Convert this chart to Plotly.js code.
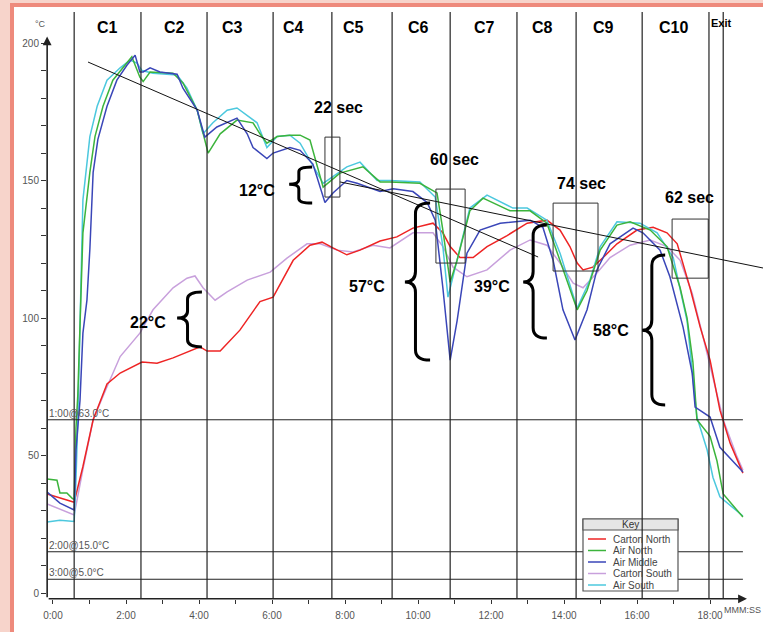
<!DOCTYPE html>
<html><head><meta charset="utf-8">
<script src="https://cdn.plot.ly/plotly-3.0.1.min.js"></script>
<style>
html,body{margin:0;padding:0;}
#bg{position:absolute;left:0;top:0;width:763px;height:632px;background:#f7d4cb;overflow:hidden;}
#sheet{position:absolute;left:10px;top:3px;width:749px;height:625px;background:#fff;border-left:4px solid #ee8a7c;border-top:4px solid #ee8a7c;}
#chart{position:absolute;left:0;top:0;width:763px;height:632px;}
</style></head>
<body><div id="bg"><div id="sheet"></div></div><div id="chart"></div>
<script>
// ---- data (time in minutes, temperature in °C) ----
const seriesNames = ['Carton North','Air North','Air Middle','Carton South','Air South'];
const seriesColors = ['#ee2424','#3cb43c','#3a46b8','#c8a0dc','#4cc8de'];

const cartonNorthT = [-0.16,0.58,0.82,1.01,1.10,1.48,1.84,2.44,2.85,3.29,3.67,4.03,4.22,4.58,5.12,5.67,6.03,6.58,7.04,7.37,7.67,8.05,8.41,8.96,9.42,9.86,10.41,10.68,10.88,11.15,11.51,11.89,12.44,12.99,13.53,13.89,14.16,14.36,14.52,14.79,15.07,15.45,16.00,16.44,16.82,17.10,17.45,17.73,18.00,18.27,18.55,18.90];
const cartonNorthC = [36,33,46,58,63,76,80,84,83.6,85.5,87.6,89.5,88,88,95.6,106,107.6,121,126.5,127.6,125.5,123,124.7,128,129.5,132.7,134.5,131,126,122,122,126,130,134.5,135.6,132,126,120,117.5,118.5,122,127,132,133,131,127,111,96.7,84.7,66.5,54.5,43.6];

const airNorthT = [-0.16,0.11,0.19,0.38,0.52,0.58,0.63,0.68,0.82,1.01,1.15,1.37,1.64,2.03,2.16,2.38,2.47,2.66,3.29,3.56,3.95,4.25,4.58,5.04,5.48,5.67,5.86,6.14,6.49,6.77,7.04,7.40,7.86,8.49,8.96,9.23,10.05,10.52,10.68,10.88,11.07,11.42,11.78,12.52,13.07,13.53,13.89,14.36,14.63,14.99,15.45,15.81,16.36,16.82,17.18,17.37,17.53,17.64,18.00,18.19,18.36,18.90];
const airNorthC = [41.5,41,36.4,36.4,34.5,34,60,72,131,153,166,177,186.5,192.7,195,187.6,186,189.5,189,185.5,175.6,160,167,172,171,167,163.6,166,166.5,166.5,164.7,147.6,152.7,155,149.5,149.5,149,145.5,132,113,121,139,143.6,139,139,134.5,121,103,110,124.7,133.8,135,132,126,111,100,84,63,57,48,36,27.6];

const airMiddleT = [-0.16,0.19,0.58,0.63,0.74,0.82,0.93,1.01,1.10,1.23,1.48,1.75,2.03,2.25,2.38,2.47,2.66,2.93,3.40,3.56,3.95,4.16,4.49,5.04,5.32,5.48,5.86,6.03,6.49,6.77,7.12,7.45,7.67,8.05,8.33,8.96,9.32,9.86,10.25,10.47,10.68,10.88,11.07,11.34,11.70,12.25,13.07,13.42,13.70,13.97,14.30,14.63,14.90,15.26,15.89,16.16,16.63,16.90,17.26,17.51,17.59,18.00,18.27,18.55,18.90];
const airMiddleC = [36.7,32.7,30.2,52,70,94.5,106.5,125,153,165,177,186.5,192,195.6,189.5,189.5,191,189.5,188.7,183.6,175.6,165.8,169.5,172.7,167,162,158,160,162,161,156,142,145.5,150,149,146,147,146,142,135.6,111,84.7,99,123.6,132,134.5,135.6,133,121,103,92,103,117.5,127,132.7,131,124.7,115,96.7,80,67.6,64,53,49,44];

const cartonSouthT = [-0.16,0.58,0.82,1.10,1.48,1.84,2.38,2.74,3.29,3.67,3.89,4.11,4.44,4.77,5.32,5.95,6.41,6.96,7.32,7.78,8.22,8.77,9.23,9.86,10.41,10.68,10.96,11.34,11.89,12.52,13.07,13.53,13.89,14.25,14.52,14.90,15.26,15.81,16.36,16.82,17.18,17.51,17.81,18.08,18.36,18.74,18.90];
const cartonSouthC = [32.4,28.4,45,63,75,86,94.5,103,111,114.5,115.3,111,106.5,109.5,113.8,116.7,121.8,127,127,124.7,124,126.5,125.5,131,131,126,118.5,115,117.5,124.7,128.4,126.5,120,112.7,111,116.4,122,126.5,128.4,126,121,109,93,78.5,63,49.5,44.7];

const airSouthT = [-0.16,0.19,0.58,0.63,0.68,0.82,1.01,1.21,1.48,1.84,2.11,2.30,2.44,2.74,3.40,3.67,3.95,4.11,4.38,4.77,5.04,5.59,5.86,6.14,6.49,6.77,7.40,8.05,8.41,8.88,9.23,10.05,10.47,10.68,10.82,11.07,11.42,11.89,12.60,12.99,13.53,13.89,14.36,14.71,14.99,15.45,16.08,16.55,16.99,17.37,17.53,17.64,17.92,18.08,18.27,18.63,18.90];
const airSouthC = [25.8,26.5,26,41,63,143,166,177,186.5,191,193.8,192.7,190,189,188.4,183.6,175.6,167,171,175.6,176.4,171,162,166,166.5,163.6,149,155,156.7,150,150,149.5,144,126,107.6,121,140,144.7,140,140,135.6,123.6,103.6,113.8,126,135,134.5,131,122,99,78,64,52,42,35,31,28];

// ticks
const xTickVals = [0,1,2,3,4,5,6,7,8,9,10,11,12,13,14,15,16,17,18];
const xTickText = ['0:00','','2:00','','4:00','','6:00','','8:00','','10:00','','12:00','','14:00','','16:00','','18:00'];
const yTickVals = [0,10,20,30,40,50,60,70,80,90,100,110,120,130,140,150,160,170,180,190,200];
const yTickText = ['0','','','','','50','','','','','100','','','','','150','','','','','200'];

// zones
const zoneBounds = [0.58,2.41,4.22,6.03,7.64,9.29,10.88,12.71,14.33,16.14,17.97,18.36];
const zoneNames = ['C1','C2','C3','C4','C5','C6','C7','C8','C9','C10'];
const zoneLabelX = [1.48,3.32,4.93,6.58,8.22,10.0,11.81,13.42,15.07,16.99];
const exitLabelX = 18.30;

// alarm levels
const alarmLevels = [63,15,5];
const alarmLabels = ['1:00@63.0°C','2:00@15.0°C','3:00@5.0°C'];
const alarmEnd = 18.90;

// trend lines
const trendX0 = [0.96,7.86], trendY0 = [193.1,149.5];
const trendX1 = [13.29,19.45], trendY1 = [122.2,118.2];

// duration boxes
const boxLabels = ['22 sec','60 sec','74 sec','62 sec'];
const boxX0 = [7.45,10.49,13.70,16.96], boxX1 = [7.86,11.29,14.93,17.95];
const boxY0 = [144,120,117.1,114.5], boxY1 = [165.8,146.9,141.8,136];
const boxLabelX = [7.81,11.01,14.47,17.45], boxLabelY = [176.4,157.5,149.1,144];

// temperature spans (braces)
const spanLabels = ['12°C','22°C','57°C','39°C','58°C'];
const spanLabelX = [5.60,2.60,8.60,12.03,15.29], spanLabelY = [146.5,98.2,111.3,111.3,95.6];
const braceTipX = [6.47,3.40,9.64,12.88,16.14];
const braceEndX = [7.10,4.08,10.33,13.53,16.77];
const braceTop = [154.9,109.5,141.8,133.8,122.9];
const braceMid = [148.7,100,113.1,113.1,95.6];
const braceBottom = [141.8,89.5,84.7,92.7,68.4];

// ---- layout geometry ----
const W = 763, H = 632, ML = 47, MT = 12, MR = 0, MB = 33;
const PW = W - ML - MR, PH = H - MT - MB;
const XR = [-0.164, 19.45], YR = [-2.18, 211.3];
const fx = px => (px - ML) / PW;
const fy = py => (MT + PH - py) / PH;
const FONT = 'Liberation Sans, Arial, sans-serif';

const xs = [cartonNorthT, airNorthT, airMiddleT, cartonSouthT, airSouthT];
const ys = [cartonNorthC, airNorthC, airMiddleC, cartonSouthC, airSouthC];
const drawOrder = [3,0,4,1,2];
const traces = drawOrder.map(i => ({
  type:'scatter', mode:'lines', x: xs[i], y: ys[i], name: seriesNames[i],
  line:{color: seriesColors[i], width:1.5}, hoverinfo:'skip', showlegend:false
}));

const shapes = [];
const annotations = [];

// alarm lines + labels
alarmLevels.forEach((v,i) => {
  shapes.push({type:'line', xref:'x', yref:'y', x0: XR[0], x1: alarmEnd, y0: v, y1: v, line:{color:'#222', width:1}, layer:'above'});
  annotations.push({xref:'x', yref:'y', x: -0.15, y: v, xanchor:'left', yanchor:'bottom', text: alarmLabels[i], showarrow:false, font:{family:FONT, size:10, color:'#555'}, borderpad:0});
});

// custom key box
const LX = 583, LY = 519, LW = 95, LH = 72, HH = 11;
shapes.push({type:'rect', xref:'paper', yref:'paper', x0: fx(LX), x1: fx(LX+LW), y0: fy(LY+LH), y1: fy(LY), fillcolor:'#fff', line:{color:'#555', width:1.2}, layer:'above'});
shapes.push({type:'rect', xref:'paper', yref:'paper', x0: fx(LX), x1: fx(LX+LW), y0: fy(LY+HH), y1: fy(LY), fillcolor:'#e6e6e6', line:{color:'#555', width:1.2}, layer:'above'});
annotations.push({xref:'paper', yref:'paper', x: fx(LX+LW/2), y: fy(LY+HH/2), text:'Key', showarrow:false, font:{family:FONT, size:10, color:'#333'}, xanchor:'center', yanchor:'middle'});
seriesNames.forEach((n,i) => {
  const ry = LY + 20 + i*11.5;
  shapes.push({type:'line', xref:'paper', yref:'paper', x0: fx(LX+5), x1: fx(LX+23), y0: fy(ry), y1: fy(ry), line:{color: seriesColors[i], width:1.5}, layer:'above'});
  annotations.push({xref:'paper', yref:'paper', x: fx(LX+28), y: fy(ry), text: n, showarrow:false, xanchor:'left', yanchor:'middle', font:{family:FONT, size:10, color:'#444'}});
});

// zone separators
zoneBounds.forEach(b => shapes.push({type:'line', xref:'x', yref:'paper', x0:b, x1:b, y0:0, y1:1, line:{color:'#222', width:1.2}, layer:'above'}));
zoneNames.forEach((n,i) => annotations.push({xref:'x', yref:'y', x: zoneLabelX[i], y: 205.8, text:'<b>'+n+'</b>', showarrow:false, font:{family:FONT, size:16, color:'#000'}}));
annotations.push({xref:'x', yref:'y', x: exitLabelX, y: 207.3, text:'<b>Exit</b>', showarrow:false, font:{family:FONT, size:11, color:'#000'}});

// trend lines
trendX0.forEach((x0,i) => shapes.push({type:'line', xref:'x', yref:'y', x0: x0, y0: trendY0[i], x1: trendX1[i], y1: trendY1[i], line:{color:'#111', width:1}, layer:'above'}));

// boxes
boxLabels.forEach((t,i) => {
  shapes.push({type:'rect', xref:'x', yref:'y', x0: boxX0[i], x1: boxX1[i], y0: boxY0[i], y1: boxY1[i], line:{color:'#333', width:1}, fillcolor:'rgba(0,0,0,0)', layer:'above'});
  annotations.push({xref:'x', yref:'y', x: boxLabelX[i], y: boxLabelY[i], text:'<b>'+t+'</b>', showarrow:false, font:{family:FONT, size:16, color:'#000'}});
});

// braces
function bracePath(tx, ex, yt, ym, yb) {
  const sx = tx + 0.42*(ex - tx);
  const r = Math.min(3.8, (yt - yb)*0.13);
  return `M${ex},${yt} Q${sx},${yt} ${sx},${yt-r} L${sx},${ym+r} Q${sx},${ym} ${tx},${ym} Q${sx},${ym} ${sx},${ym-r} L${sx},${yb+r} Q${sx},${yb} ${ex},${yb}`;
}
spanLabels.forEach((t,i) => {
  shapes.push({type:'path', xref:'x', yref:'y', path: bracePath(braceTipX[i], braceEndX[i], braceTop[i], braceMid[i], braceBottom[i]), line:{color:'#000', width:3}, layer:'above'});
  annotations.push({xref:'x', yref:'y', x: spanLabelX[i], y: spanLabelY[i], text:'<b>'+t+'</b>', showarrow:false, font:{family:FONT, size:16, color:'#000'}});
});

// axes with arrows
annotations.push({xref:'x', yref:'y', axref:'x', ayref:'y', x: 19.01, y: -2.1, ax: -0.16, ay: -2.1, text:'', showarrow:true, arrowhead:2, arrowsize:1.1, arrowwidth:1.6, arrowcolor:'#222', standoff:0});
annotations.push({xref:'x', yref:'y', axref:'x', ayref:'y', x: -0.16, y: 202.4, ax: -0.16, ay: -2.1, text:'', showarrow:true, arrowhead:2, arrowsize:1.1, arrowwidth:1.6, arrowcolor:'#222', standoff:0});
annotations.push({xref:'paper', yref:'paper', x: fx(723), y: fy(610), text:'MMM:SS', showarrow:false, xanchor:'left', yanchor:'middle', font:{family:FONT, size:9, color:'#555'}, borderpad:0});
annotations.push({xref:'paper', yref:'paper', x: fx(40), y: fy(24), text:'°C', showarrow:false, xanchor:'center', yanchor:'middle', font:{family:FONT, size:9, color:'#555'}});

const layout = {
  width: W, height: H,
  margin: {l: ML, r: MR, t: MT, b: MB, pad: 0},
  paper_bgcolor: 'rgba(0,0,0,0)', plot_bgcolor: 'rgba(0,0,0,0)',
  showlegend: false,
  font: {family: FONT},
  xaxis: {range: XR, tickvals: xTickVals, ticktext: xTickText, ticks:'outside', ticklen:4, tickwidth:1, tickcolor:'#333',
          showgrid:false, zeroline:false, showline:false, tickfont:{family:FONT, size:10, color:'#555'}, ticklabelstandoff: 3, fixedrange:true},
  yaxis: {range: YR, tickvals: yTickVals, ticktext: yTickText, ticks:'outside', ticklen:5, tickwidth:1, tickcolor:'#333',
          showgrid:false, zeroline:false, showline:false, tickfont:{family:FONT, size:10, color:'#555'}, fixedrange:true},
  shapes: shapes,
  annotations: annotations
};
Plotly.newPlot('chart', traces, layout, {staticPlot:true, displayModeBar:false});
</script></body></html>
